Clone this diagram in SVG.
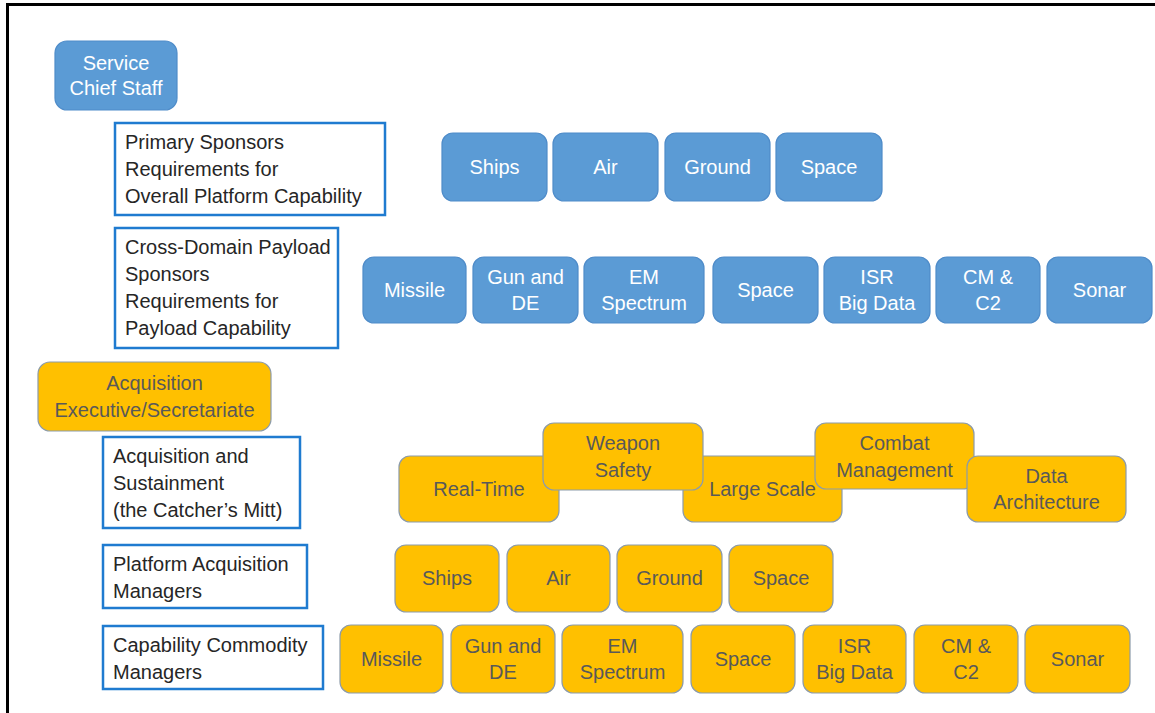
<svg xmlns="http://www.w3.org/2000/svg" width="1155" height="713" viewBox="0 0 1155 713">
<style>
text{font-family:"Liberation Sans",Arial,sans-serif;font-size:20px}
.b rect{fill:#5B9BD5;stroke:#4F8CC9;stroke-width:1.2}
.b text{fill:#ffffff;text-anchor:middle}
.y rect{fill:#FFC000;stroke:#8C9BAA;stroke-width:1.2}
.y text{fill:#595959;text-anchor:middle}
.l rect{fill:#ffffff;stroke:#1F7BD0;stroke-width:2.5}
.l text{fill:#262626}
</style>
<rect x="0" y="0" width="1155" height="713" fill="#ffffff"/>
<path d="M7.5,713 V4.5 H1155" fill="none" stroke="#000000" stroke-width="3"/>

<g id="service-chief-staff" class="b"><rect x="55" y="41" width="122" height="69" rx="12"/><text x="116" y="70">Service</text><text x="116" y="95">Chief Staff</text></g>

<g id="primary-sponsors" class="l"><rect x="115" y="123" width="270" height="92"/><text x="125" y="149">Primary Sponsors</text><text x="125" y="176">Requirements for</text><text x="125" y="203">Overall Platform Capability</text></g>

<g id="cross-domain" class="l"><rect x="115" y="228" width="223" height="120"/><text x="125" y="254">Cross-Domain Payload</text><text x="125" y="281">Sponsors</text><text x="125" y="308">Requirements for</text><text x="125" y="335">Payload Capability</text></g>

<g id="b-ships" class="b"><rect x="442" y="133" width="105" height="68" rx="11"/><text x="494.5" y="174">Ships</text></g>
<g id="b-air" class="b"><rect x="553" y="133" width="105" height="68" rx="11"/><text x="605.5" y="174">Air</text></g>
<g id="b-ground" class="b"><rect x="665" y="133" width="105" height="68" rx="11"/><text x="717.5" y="174">Ground</text></g>
<g id="b-space" class="b"><rect x="776" y="133" width="106" height="68" rx="11"/><text x="829" y="174">Space</text></g>

<g id="b-missile" class="b"><rect x="363" y="257" width="103" height="66" rx="11"/><text x="414.5" y="297">Missile</text></g>
<g id="b-gun" class="b"><rect x="473" y="257" width="105" height="66" rx="11"/><text x="525.5" y="284">Gun and</text><text x="525.5" y="310">DE</text></g>
<g id="b-em" class="b"><rect x="584" y="257" width="120" height="66" rx="11"/><text x="644" y="284">EM</text><text x="644" y="310">Spectrum</text></g>
<g id="b-space2" class="b"><rect x="713" y="257" width="105" height="66" rx="11"/><text x="765.5" y="297">Space</text></g>
<g id="b-isr" class="b"><rect x="824" y="257" width="106" height="66" rx="11"/><text x="877" y="284">ISR</text><text x="877" y="310">Big Data</text></g>
<g id="b-cm" class="b"><rect x="936" y="257" width="104" height="66" rx="11"/><text x="988" y="284">CM &amp;</text><text x="988" y="310">C2</text></g>
<g id="b-sonar" class="b"><rect x="1047" y="257" width="105" height="66" rx="11"/><text x="1099.5" y="297">Sonar</text></g>

<g id="acq-exec" class="y"><rect x="38" y="362" width="233" height="69" rx="12"/><text x="154.5" y="390">Acquisition</text><text x="154.5" y="417">Executive/Secretariate</text></g>

<g id="acq-sustainment" class="l"><rect x="103" y="437" width="197" height="91"/><text x="113" y="463">Acquisition and</text><text x="113" y="490">Sustainment</text><text x="113" y="517">(the Catcher’s Mitt)</text></g>

<g id="platform-managers" class="l"><rect x="103" y="545" width="204" height="63"/><text x="113" y="571">Platform Acquisition</text><text x="113" y="598">Managers</text></g>

<g id="commodity-managers" class="l"><rect x="103" y="626" width="220" height="63"/><text x="113" y="652">Capability Commodity</text><text x="113" y="679">Managers</text></g>

<g id="y-realtime" class="y"><rect x="399" y="456" width="160" height="66" rx="11"/><text x="479" y="496">Real-Time</text></g>
<g id="y-largescale" class="y"><rect x="683" y="456" width="159" height="66" rx="11"/><text x="762.5" y="496">Large Scale</text></g>
<g id="y-weapon" class="y"><rect x="543" y="423" width="160" height="67" rx="11"/><text x="623" y="450">Weapon</text><text x="623" y="477">Safety</text></g>
<g id="y-combat" class="y"><rect x="815" y="423" width="159" height="66" rx="11"/><text x="894.5" y="450">Combat</text><text x="894.5" y="477">Management</text></g>
<g id="y-data" class="y"><rect x="967" y="456" width="159" height="66" rx="11"/><text x="1046.5" y="483">Data</text><text x="1046.5" y="509">Architecture</text></g>

<g id="y-ships" class="y"><rect x="395" y="545" width="104" height="67" rx="11"/><text x="447" y="585">Ships</text></g>
<g id="y-air" class="y"><rect x="507" y="545" width="103" height="67" rx="11"/><text x="558.5" y="585">Air</text></g>
<g id="y-ground" class="y"><rect x="617" y="545" width="105" height="67" rx="11"/><text x="669.5" y="585">Ground</text></g>
<g id="y-space" class="y"><rect x="729" y="545" width="104" height="67" rx="11"/><text x="781" y="585">Space</text></g>

<g id="y-missile" class="y"><rect x="340" y="625" width="103" height="68" rx="11"/><text x="391.5" y="666">Missile</text></g>
<g id="y-gun" class="y"><rect x="451" y="625" width="104" height="68" rx="11"/><text x="503" y="653">Gun and</text><text x="503" y="679">DE</text></g>
<g id="y-em" class="y"><rect x="562" y="625" width="121" height="68" rx="11"/><text x="622.5" y="653">EM</text><text x="622.5" y="679">Spectrum</text></g>
<g id="y-space2" class="y"><rect x="691" y="625" width="104" height="68" rx="11"/><text x="743" y="666">Space</text></g>
<g id="y-isr" class="y"><rect x="803" y="625" width="103" height="68" rx="11"/><text x="854.5" y="653">ISR</text><text x="854.5" y="679">Big Data</text></g>
<g id="y-cm" class="y"><rect x="914" y="625" width="104" height="68" rx="11"/><text x="966" y="653">CM &amp;</text><text x="966" y="679">C2</text></g>
<g id="y-sonar" class="y"><rect x="1025" y="625" width="105" height="68" rx="11"/><text x="1077.5" y="666">Sonar</text></g>

<g id="connectors"></g>
</svg>
